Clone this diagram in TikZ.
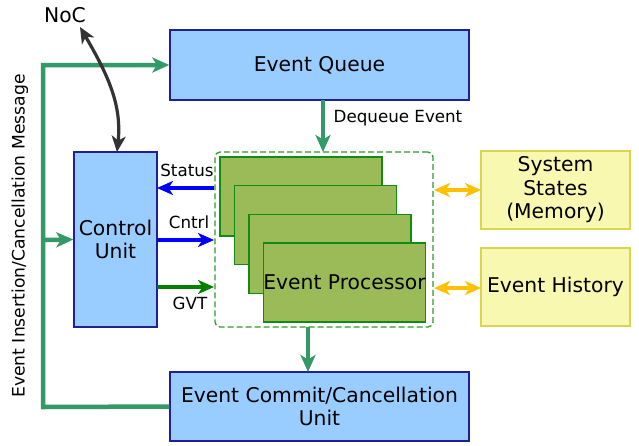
\documentclass[tikz,border=0pt]{standalone}
\usepackage{fontspec}
\setmainfont{DejaVu Sans}
\usetikzlibrary{arrows.meta}
\definecolor{boxblue}{HTML}{99CCFF}
\definecolor{boxblueline}{HTML}{1F1F99}
\definecolor{procfill}{HTML}{9BBB59}
\definecolor{procline}{HTML}{138A13}
\definecolor{memfill}{HTML}{F8F8B0}
\definecolor{memline}{HTML}{D6D650}
\definecolor{loopgreen}{HTML}{339966}
\definecolor{yarrow}{HTML}{FFC000}
\definecolor{darkarrow}{HTML}{333333}
\definecolor{dashgreen}{HTML}{2E9A2E}
\begin{document}
\begin{tikzpicture}[x=1pt,y=-1pt,
  bigtext/.style={font=\fontsize{20.3}{23.5}\selectfont},
  smalltext/.style={font=\fontsize{16.7}{19}\selectfont},
  bluebox/.style={draw=boxblueline, fill=boxblue, line width=1.3pt, inner sep=0pt, align=center, bigtext},
  procbox/.style={draw=procline, fill=procfill, line width=1.3pt, inner sep=0pt, minimum width=162, minimum height=79},
  membox/.style={draw=memline, fill=memfill, line width=1.3pt, inner sep=0pt, align=center, bigtext, minimum width=149, minimum height=78},
  tip/.style={-{Stealth[length=17pt,width=15pt,inset=4.5pt]}},
  gline/.style={draw=loopgreen, line width=4.5pt},
  barrow/.style={draw=blue, line width=3.2pt, -{Stealth[length=16pt,width=14pt,inset=4.5pt]}},
  garrow/.style={draw=green!50!black, line width=3.2pt, -{Stealth[length=16pt,width=14pt,inset=4.5pt]}},
  yarrowstyle/.style={draw=yarrow, line width=3.2pt, {Stealth[length=16pt,width=14pt,inset=4.5pt]}-{Stealth[length=16pt,width=14pt,inset=4.5pt]}}
]
\useasboundingbox (0,0) rectangle (639,445);

% main boxes
\node[bluebox, minimum width=299, minimum height=70] (eq) at (319.5,65) {Event Queue};
\node[bluebox, minimum width=83, minimum height=175] (cu) at (115.5,239.5) {Control\\Unit};
\node[bluebox, minimum width=299, minimum height=69] (ec) at (319.5,406.5) {Event Commit/Cancellation\\Unit};

% container
\node[draw=dashgreen, line width=1.3pt, dash pattern=on 6pt off 3pt, rounded corners=5pt, minimum width=218, minimum height=175, inner sep=0pt] (ep) at (324,239.5) {};

% processors
\node[procbox] (p1) at (301,196.5) {};
\node[procbox] (p2) at (315.5,225) {};
\node[procbox] (p3) at (330,254) {};
\node[procbox, bigtext] (p4) at (344.5,282.5) {Event Processor};

% memory
\node[membox] (ss) at (555.5,190) {System\\States\\(Memory)};
\node[membox] (eh) at (555.5,287) {Event History};

% NoC
\node[bigtext, inner sep=0pt] (noc) at (65,15) {NoC};

% coordinates
\coordinate (lb) at (43,407);
\coordinate (lt) at (43,65);
\coordinate (lm) at (43,240);
\coordinate (sts) at (214,188);
\coordinate (ste) at (157,188);
\coordinate (cns) at (157,240);
\coordinate (cne) at (214,240);
\coordinate (gvs) at (157,287);
\coordinate (gve) at (214,287);
\coordinate (dqs) at (323,100);
\coordinate (dqe) at (323,152);
\coordinate (cms) at (308,327);
\coordinate (cme) at (308,372);
\coordinate (ys1) at (434,190);
\coordinate (ye1) at (481,190);
\coordinate (ys2) at (434,288);
\coordinate (ye2) at (481,288);
\coordinate (nocs) at (80,27);
\coordinate (noce) at (117,152);

% green loop
\draw[gline, line join=miter, tip] (ec.west) -- (lb) -- (lt) -- (eq.west);
\draw[gline, tip] (lm) -- (cu.west);

% dequeue and commit
\draw[gline, tip] (dqs) -- (dqe);
\draw[gline, tip] (cms) -- (cme);
\node[smalltext, inner sep=0pt] (dql) at (398,118) {Dequeue Event};

% control signals
\draw[barrow] (sts) -- (ste);
\draw[barrow] (cns) -- (cne);
\draw[garrow] (gvs) -- (gve);
\node[smalltext, inner sep=0pt] (stl) at (187,170) {Status};
\node[smalltext, inner sep=0pt] (cnl) at (189,222) {Cntrl};
\node[smalltext, inner sep=0pt] (gvl) at (190,303) {GVT};

% yellow arrows
\draw[yarrowstyle] (ys1) -- (ye1);
\draw[yarrowstyle] (ys2) -- (ye2);

% NoC arrow
\draw[darkarrow, line width=3.2pt, {Stealth[length=16pt,width=14pt,inset=4.5pt]}-{Stealth[length=16pt,width=14pt,inset=4.5pt]}] (nocs) .. controls (108,75) and (122,105) .. (noce);

% vertical label
\node[font=\fontsize{17.2}{19}\selectfont, rotate=90, inner sep=0pt] (vl) at (20,236) {Event Insertion/Cancellation Message};
\end{tikzpicture}
\end{document}
